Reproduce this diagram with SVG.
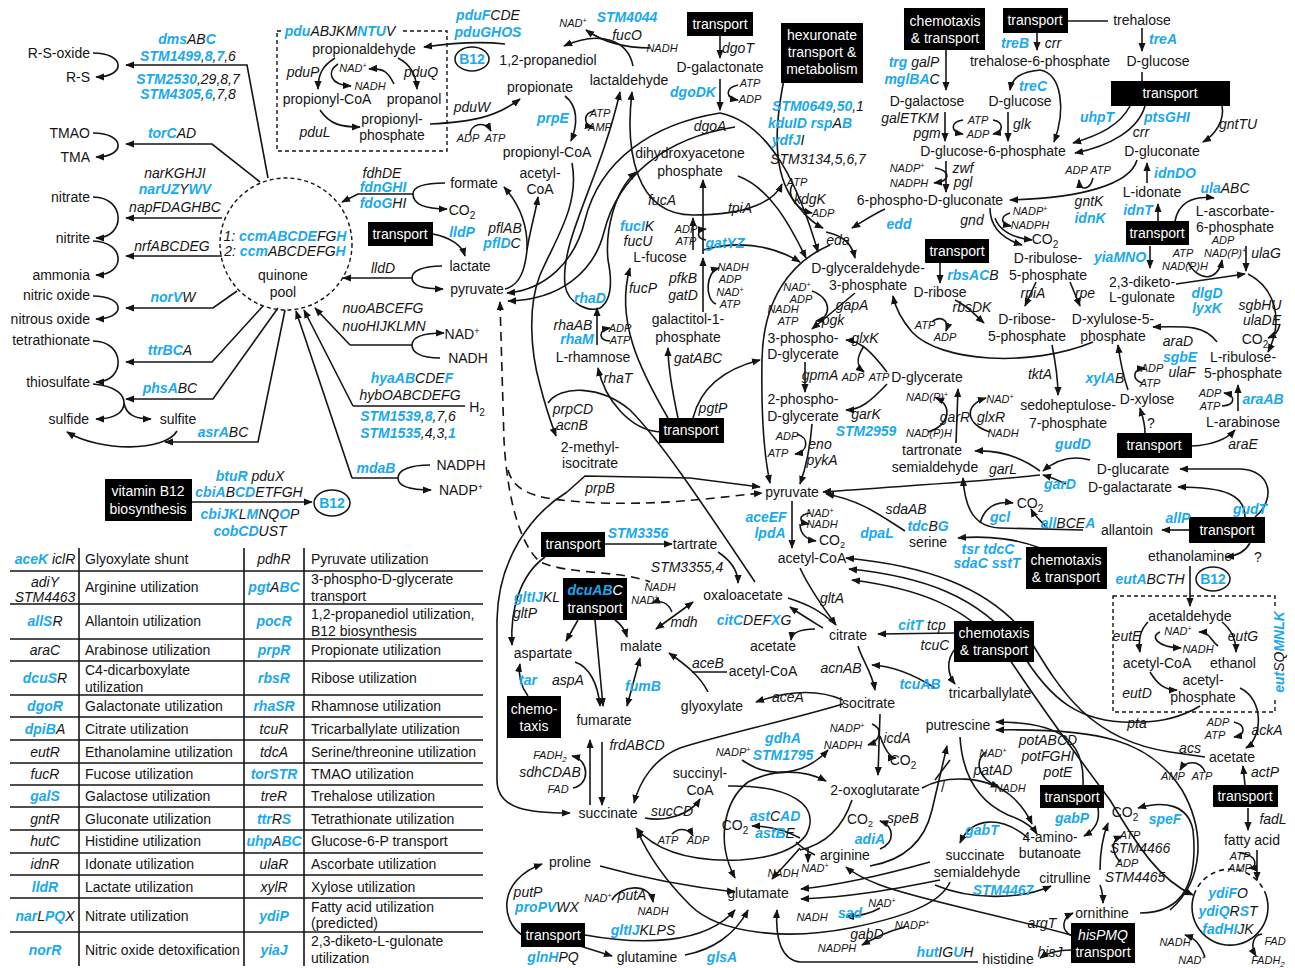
<svg xmlns="http://www.w3.org/2000/svg" width="1295" height="968" viewBox="0 0 1295 968">
<style>
text{font-family:"Liberation Sans",Arial,Helvetica,sans-serif;font-size:14px;fill:#141414}
.m{text-anchor:middle}
.e{text-anchor:end}
.g{font-style:italic}
.b{fill:#1aa8ee;font-weight:bold}
.s{font-size:11px}
.w{fill:#fff;text-anchor:middle}
.c{fill:none;stroke:#141414;stroke-width:1.6}
.a{marker-end:url(#ah)}
.r{marker-start:url(#ah)}
.d{stroke-dasharray:9 6}
.q{fill:none;stroke:#141414;stroke-width:1.4;stroke-dasharray:4 3}
.tb{stroke:#141414;stroke-width:1.6}
.el{fill:none;stroke:#141414;stroke-width:1.5}
.bb{fill:#1aa8ee;font-weight:bold;font-style:normal}
</style>
<defs>
<marker id="ah" viewBox="0 0 10 10" refX="9" refY="5" markerWidth="9" markerHeight="9" markerUnits="userSpaceOnUse" orient="auto-start-reverse"><path d="M0,1 L10,5 L0,9 z" fill="#141414"/></marker>
</defs>
<rect width="1295" height="968" fill="#fff"/>

<g id="connectors">
<path class="c a" d="M268,178 L247,65 L126,65"/>
<path class="c a" d="M93,53 C126,53 126,77 96,77"/>
<path class="c a" d="M260,182 L212,144 L126,144"/>
<path class="c a" d="M93,133 C126,133 126,157 96,157"/>
<path class="c a" d="M222,218 L126,218"/>
<path class="c a" d="M93,197 C126,197 126,238 96,238"/>
<path class="c a" d="M222,256 L126,256"/>
<path class="c a" d="M93,241 C126,242 126,275 96,275"/>
<path class="c a" d="M237,291 L213,308 L126,308"/>
<path class="c a" d="M93,296 C126,296 126,319 96,319"/>
<path class="c a" d="M263,306 L212,362 L126,362"/>
<path class="c a" d="M93,341 C126,341 126,382 96,382"/>
<path class="c a" d="M278,308 L213,399 L126,399"/>
<path class="c a" d="M93,384 C118,386 124,396 124,403 C124,412 115,419 96,419"/>
<path class="c a" d="M124,403 C126,414 134,419 151,419"/>
<path class="c a" d="M285,310 L258,442 L165,442"/>
<path class="c a" d="M177,431 C165,452 100,452 67,432"/>
<path class="c a" d="M413,194 L358,194 L342,202"/>
<path class="c a" d="M445,183 C420,183 413,188 413,194 C413,202 420,209 447,209"/>
<path class="c a" d="M412,278 L343,278"/>
<path class="c a" d="M442,266 C420,266 412,272 412,278 C412,284 420,289 443,289"/>
<path class="c a" d="M350,345 L315,308"/>
<path class="c" d="M350,345 L412,345"/>
<path class="c a" d="M440,358 C420,358 412,352 412,345 C412,338 420,333 444,333"/>
<path class="c a" d="M353,406 L304,310"/>
<path class="c" d="M353,406 L465,406"/>
<path class="c a" d="M352,478 L296,311"/>
<path class="c" d="M352,478 L398,478"/>
<path class="c a" d="M430,465 C410,465 398,470 398,478 C398,486 410,490 431,490"/>
<path class="c a" d="M433,234 C452,238 462,246 465,256"/>
<path class="c a" d="M192,502 L312,502"/>
<path class="c a" d="M505,44 C480,41 452,43 424,47"/>
<path class="c a" d="M335,58 C322,66 318,75 318,89"/>
<path class="c a" d="M338,64 C326,72 330,85 351,86"/>
<path class="c a" d="M398,58 C410,64 416,74 417,89"/>
<path class="c a" d="M394,84 C388,72 384,68 369,69"/>
<path class="c a" d="M320,110 C330,125 342,127 360,127"/>
<path class="c a" d="M430,124 C470,122 495,118 520,99"/>
<path class="c a" d="M470,135 C470,124 485,120 491,131"/>
<path class="c a" d="M633,66 C628,40 600,30 564,46"/>
<path class="c a" d="M650,48 C622,48 603,42 586,30"/>
<path class="c a" d="M565,96 C578,106 578,124 571,141"/>
<path class="c a" d="M594,111 C583,113 583,125 593,127"/>
<path class="c a" d="M572,163 C580,205 555,240 540,275 C528,305 530,350 540,385 C545,405 550,420 556,436"/>
<path class="c a" d="M505,289 C520,285 525,270 527,250 C528,225 520,205 504,187"/>
<path class="c a" d="M527,250 C530,230 535,215 538,197"/>
<path class="c a" d="M720,36 L720,58"/>
<path class="c a" d="M720,79 L720,110"/>
<path class="c a" d="M738,85 C725,88 725,98 738,100"/>
<path class="c a" d="M720,113 C652,124 600,160 585,220 C575,262 545,290 507,293"/>
<path class="c a" d="M735,127 C665,138 618,176 604,232 C594,272 560,300 508,301"/>
<path class="c a" d="M720,113 C772,124 800,190 818,252"/>
<path class="c a" d="M786,70 C775,120 772,165 790,195 C800,210 810,222 823,228"/>
<path class="c a" d="M792,185 C786,197 798,210 812,213"/>
<path class="c a" d="M885,209 C872,215 862,222 852,228"/>
<path class="c a" d="M826,232 C845,236 852,245 855,258"/>
<path class="c a" d="M830,245 C790,262 763,300 762,360 C761,420 765,460 770,483"/>
<path class="c a" d="M738,176 C770,188 790,225 806,258"/>
<path class="c r a" d="M620,92 C600,180 560,240 565,285 C568,305 590,312 600,308 C612,300 612,280 608,260 C605,230 615,190 636,172"/>
<path class="c r a" d="M632,92 C625,150 635,215 693,215 C750,215 775,200 782,184"/>
<path class="c a" d="M597,345 L597,308"/>
<path class="c a" d="M610,341 C598,340 598,330 610,328"/>
<path class="c a" d="M693,250 L693,218"/>
<path class="c a" d="M706,240 C696,238 696,230 706,229"/>
<path class="c a" d="M703,312 L703,258"/>
<path class="c a" d="M703,254 L703,180"/>
<path class="c a" d="M716,304 C705,300 705,272 719,268"/>
<path class="c a" d="M703,250 C740,240 772,245 800,262"/>
<path class="c a" d="M660,432 C630,430 605,400 598,368"/>
<path class="c a" d="M668,418 C640,370 615,320 630,268"/>
<path class="c a" d="M678,418 C672,390 668,365 668,348"/>
<path class="c a" d="M693,418 C700,390 720,370 760,360"/>
<path class="c a" d="M855,293 L812,329"/>
<path class="c a" d="M812,291 C832,298 832,318 816,321"/>
<path class="c a" d="M805,362 L805,392"/>
<path class="c a" d="M812,424 C810,450 805,470 800,484"/>
<path class="c a" d="M797,434 C810,438 808,452 795,454"/>
<path class="c a" d="M887,372 C870,350 860,341 846,340"/>
<path class="c a" d="M887,384 C870,402 860,410 846,410"/>
<path class="c a" d="M864,346 C856,358 856,366 864,372"/>
<path class="c a" d="M1093,342 C1030,368 940,362 912,332 C900,318 895,306 893,296"/>
<path class="c a" d="M956,443 L958,389"/>
<path class="c a" d="M928,432 C950,425 953,405 936,398"/>
<path class="c a" d="M990,432 C966,425 963,405 986,398"/>
<path class="c a" d="M1090,460 C1072,455 1056,460 1043,471"/>
<path class="c a" d="M1066,484 C1058,480 1050,477 1043,475"/>
<path class="c a" d="M1040,471 C1020,456 1000,450 975,451"/>
<path class="c a" d="M1040,475 C980,482 900,486 823,492"/>
<path class="c a" d="M1083,530 L1000,528 C975,527 965,510 963,478"/>
<path class="c a" d="M1047,528 C1040,520 1034,515 1031,509"/>
<path class="c a" d="M980,523 C985,506 998,501 1013,503"/>
<path class="c a" d="M1190,530 L1162,530"/>
<path class="c a" d="M1255,517 C1276,500 1272,470 1240,469 L1180,469"/>
<path class="c a" d="M1245,517 C1245,495 1225,487 1178,487"/>
<path class="c a" d="M1250,543 C1245,552 1236,556 1226,557"/>
<path class="c a" d="M1190,566 L1190,606"/>
<path class="c a" d="M1040,548 C1020,540 990,535 958,538"/>
<path class="c a" d="M905,531 C880,515 860,500 826,494"/>
<path class="c a" d="M792,501 L792,548"/>
<path class="c a" d="M810,513 C798,515 798,522 809,524"/>
<path class="c a" d="M800,524 C800,535 808,540 816,541"/>
<path class="c r" d="M846,558 C920,565 990,585 1030,640 C1060,690 1090,740 1170,752 L1205,757"/>
<path class="c r" d="M849,569 C920,576 980,595 1020,650 C1050,700 1080,725 1140,722 C1170,722 1190,712 1200,706"/>
<path class="c r a" d="M852,580 C915,588 970,605 1010,660 C1050,720 1080,760 1110,800 C1140,850 1160,880 1193,895"/>
<path class="c a" d="M1240,688 C1265,700 1262,738 1246,748"/>
<path class="c a" d="M1234,722 C1246,725 1246,735 1234,737"/>
<path class="c a" d="M1205,772 C1200,760 1186,760 1180,770"/>
<path class="c a" d="M1245,785 L1243,766"/>
<path class="c a" d="M1248,808 L1248,830"/>
<path class="c a" d="M1257,850 L1257,880"/>
<path class="c a" d="M1240,853 C1258,855 1258,868 1249,868"/>
<path class="c a" d="M1205,957 C1200,944 1195,938 1185,935"/>
<path class="c a" d="M1262,934 C1253,935 1250,946 1256,956"/>
<path class="c a" d="M1148,622 C1140,630 1138,640 1140,652"/>
<path class="c a" d="M1160,632 C1150,636 1156,647 1181,648"/>
<path class="c a" d="M1222,622 C1232,630 1236,640 1236,652"/>
<path class="c a" d="M1218,646 C1210,640 1210,632 1199,632"/>
<path class="c a" d="M1150,672 C1158,685 1165,690 1177,690"/>
<path class="c a" d="M800,568 C810,590 825,610 836,625"/>
<path class="c" d="M788,598 C810,605 822,612 835,624"/>
<path class="c a" d="M823,628 C810,620 800,614 790,607"/>
<path class="c a" d="M815,629 C800,629 792,632 791,640"/>
<path class="c a" d="M858,646 C862,660 872,672 875,690"/>
<path class="c a" d="M935,688 C910,672 890,666 872,665"/>
<path class="c a" d="M954,633 L878,634"/>
<path class="c a" d="M956,648 C945,660 948,675 955,684"/>
<path class="c a" d="M880,714 L878,775"/>
<path class="c a" d="M872,724 C882,728 882,740 868,745"/>
<path class="c a" d="M880,736 C885,750 890,758 896,758"/>
<path class="c a" d="M843,700 C820,690 790,690 756,702"/>
<path class="c a" d="M843,704 C790,720 720,735 680,748 C655,758 640,780 634,803"/>
<path class="c" d="M727,672 L692,672"/>
<path class="c a" d="M708,692 C700,676 686,665 669,653"/>
<path class="c r a" d="M656,629 L693,602"/>
<path class="c a" d="M672,612 C668,602 660,600 652,603"/>
<path class="c a" d="M605,544 L672,544"/>
<path class="c a" d="M718,552 C730,560 738,570 738,583"/>
<path class="c a" d="M545,557 C520,575 510,610 512,645"/>
<path class="c a" d="M528,696 C520,685 518,675 520,664"/>
<path class="c a" d="M578,620 L566,641"/>
<path class="c a" d="M595,620 L603,706"/>
<path class="c a" d="M615,620 C622,625 625,630 627,637"/>
<path class="c a" d="M575,662 C590,667 598,685 600,706"/>
<path class="c r a" d="M627,706 L640,658"/>
<path class="c a" d="M567,492 L585,476 L690,478 L760,487"/>
<path class="c" d="M548,403 C560,385 600,385 630,410 C660,440 700,500 755,582"/>
<path class="c d r" d="M500,302 L504,440 C506,480 515,540 540,562 C570,575 620,570 650,582"/>
<path class="c d a" d="M508,470 C515,495 540,500 600,503 C670,505 720,497 762,493"/>
<path class="c a" d="M567,492 C530,515 498,560 497,620 L497,780 C497,810 530,813 570,813"/>
<path class="c a" d="M590,805 L590,740"/>
<path class="c a" d="M602,742 L602,805"/>
<path class="c a" d="M573,788 C590,785 590,760 572,756"/>
<path class="c a" d="M645,818 C665,822 690,815 700,799"/>
<path class="c a" d="M672,834 C680,826 690,830 693,836"/>
<path class="c a" d="M728,786 C790,785 822,805 806,835 C795,850 770,858 740,860 C690,862 655,850 636,828"/>
<path class="c" d="M815,855 C805,850 800,846 796,842"/>
<path class="c a" d="M748,782 C725,800 715,840 735,878"/>
<path class="c a" d="M748,782 C775,768 805,770 826,781"/>
<path class="c a" d="M742,760 C770,780 805,775 828,750"/>
<path class="c a" d="M800,838 C785,830 770,826 752,826"/>
<path class="c a" d="M800,848 C790,860 780,870 772,879"/>
<path class="c a" d="M808,848 L808,862"/>
<path class="c" d="M852,800 C842,830 822,845 800,850"/>
<path class="c a" d="M880,849 C896,842 894,826 880,821"/>
<path class="c a" d="M600,866 C650,880 700,888 735,892"/>
<path class="c a" d="M612,900 C620,885 650,882 653,902"/>
<path class="c a" d="M522,935 C500,920 498,880 542,864"/>
<path class="c a" d="M585,935 C640,945 705,945 735,910"/>
<path class="c a" d="M580,946 L612,956"/>
<path class="c a" d="M685,955 C712,950 735,935 748,910"/>
<path class="c a" d="M978,962 L800,962 C782,960 775,940 777,910"/>
<path class="c a" d="M950,882 C940,905 900,918 850,928 C790,940 720,935 690,905 C670,885 650,860 637,830"/>
<path class="c a" d="M880,908 C870,914 860,916 846,917"/>
<path class="c a" d="M905,927 C885,932 875,938 862,945"/>
<path class="c a" d="M930,862 C880,876 840,885 801,889"/>
<path class="c a" d="M940,880 C890,890 850,897 801,899"/>
<path class="c a" d="M1071,935 C1000,915 920,900 880,885 C862,878 852,872 846,867"/>
<path class="c a" d="M870,866 C905,860 925,840 932,810 L947,746"/>
<path class="c a" d="M960,737 C962,770 975,800 1008,815 C1022,820 1032,826 1037,834"/>
<path class="c a" d="M986,752 C975,760 976,778 999,787"/>
<path class="c a" d="M922,788 C945,775 985,775 1010,795 C1022,805 1028,815 1032,824"/>
<path class="c a" d="M1028,838 C1002,816 972,816 960,843"/>
<path class="c a" d="M935,885 C970,900 1020,900 1051,886"/>
<path class="c a" d="M1100,870 C1100,850 1103,836 1108,823"/>
<path class="c a" d="M1100,885 C1102,890 1103,895 1103,903"/>
<path class="c a" d="M1120,862 C1110,850 1112,840 1122,836"/>
<path class="c a" d="M1140,913 C1185,913 1198,880 1193,830 C1188,805 1165,800 1138,808"/>
<path class="c a" d="M1170,910 C1205,880 1205,830 1182,790 C1150,740 1100,728 996,730"/>
<path class="c a" d="M1083,785 C1085,740 1060,722 996,722"/>
<path class="c a" d="M1098,808 C1100,820 1095,830 1084,836"/>
<path class="c a" d="M1072,936 C1060,930 1062,918 1073,913"/>
<path class="c a" d="M1071,950 C1056,950 1046,954 1040,958"/>
<path class="c" d="M935,780 L950,760"/>
<path class="c" d="M1068,21 L1108,21"/>
<path class="c a" d="M1037,33 L1037,50"/>
<path class="c a" d="M1142,28 L1142,51"/>
<path class="c a" d="M946,50 L946,90"/>
<path class="c a" d="M1040,70 C1020,72 1012,78 1010,90"/>
<path class="c a" d="M1040,70 C1062,74 1066,110 1054,142"/>
<path class="c a" d="M945,112 L945,141"/>
<path class="c a" d="M1008,112 L1008,141"/>
<path class="c a" d="M963,120 C950,122 950,132 963,134"/>
<path class="c a" d="M993,120 C1004,122 1004,132 993,134"/>
<path class="c" d="M1142,72 L1142,82"/>
<path class="c a" d="M1130,106 C1120,125 1100,135 1073,143"/>
<path class="c a" d="M1145,106 C1138,130 1110,146 1075,153"/>
<path class="c a" d="M1222,106 C1225,120 1215,135 1203,142"/>
<path class="c a" d="M946,161 L946,192"/>
<path class="c a" d="M935,168 C950,170 952,181 934,183"/>
<path class="c a" d="M1137,160 C1130,185 1080,198 1010,200"/>
<path class="c a" d="M1093,178 C1090,190 1080,192 1079,180"/>
<path class="c a" d="M1147,183 L1147,163"/>
<path class="c a" d="M1158,221 L1158,204"/>
<path class="c a" d="M1175,221 C1178,205 1190,195 1214,198"/>
<path class="c a" d="M990,208 C990,225 1000,238 1022,245"/>
<path class="c a" d="M1010,213 C1000,216 1000,224 1011,226"/>
<path class="c a" d="M995,218 C1000,232 1015,238 1032,240"/>
<path class="c a" d="M940,263 L940,283"/>
<path class="c a" d="M955,300 C968,306 975,315 984,323"/>
<path class="c a" d="M932,322 C940,315 950,320 946,331"/>
<path class="c a" d="M1036,282 L1025,306"/>
<path class="c a" d="M1070,282 L1080,306"/>
<path class="c a" d="M1052,345 C1055,360 1058,375 1058,395"/>
<path class="c a" d="M1150,246 L1150,268"/>
<path class="c a" d="M1176,284 L1245,274"/>
<path class="c a" d="M1188,262 C1198,282 1218,282 1222,260"/>
<path class="c a" d="M1246,246 L1246,271"/>
<path class="c a" d="M1248,274 C1275,288 1284,320 1268,352"/>
<path class="c a" d="M1280,324 C1278,332 1275,335 1268,338"/>
<path class="c a" d="M1217,342 C1205,326 1190,326 1153,327"/>
<path class="c a" d="M1128,390 C1122,372 1120,360 1118,345"/>
<path class="c a" d="M1142,383 C1132,380 1132,369 1145,368"/>
<path class="c a" d="M1145,433 C1145,422 1142,415 1140,408"/>
<path class="c a" d="M1192,446 C1210,445 1226,440 1235,430"/>
<path class="c a" d="M1238,411 L1238,385"/>
<path class="c a" d="M1222,406 C1236,405 1236,395 1224,393"/>
</g>

<g id="quinone-pool"><circle cx="286" cy="244" r="66" class="q"/>
<text class="m g" x="285" y="241">1: <tspan class="b">ccmABCDE</tspan>FG<tspan class="b">H</tspan></text>
<text class="m g" x="285" y="256">2: <tspan class="b">ccm</tspan>ABCDEFG<tspan class="b">H</tspan></text>
<text class="m" x="283" y="280">quinone</text><text class="m" x="283" y="297">pool</text></g>
<g id="pdu-box"><rect x="277" y="31" width="170" height="120" class="q"/><rect x="282" y="23" width="118" height="16" fill="#fff"/>
<text class="m g" x="340" y="36"><tspan class="b">pdu</tspan>ABJKM<tspan class="b">NTU</tspan>V</text></g>
<g id="eut-box"><rect x="1113" y="596" width="162" height="116" class="q"/><rect x="1271" y="608" width="16" height="90" fill="#fff"/>
<text class="m g" transform="translate(1284,652) rotate(-90)"><tspan class="b">eut</tspan>SQ<tspan class="b">MNLK</tspan></text></g>
<g id="ydi-circle"><path class="c d" style="stroke-dasharray:5 4" d="M1194,895 A38,38 0 0 1 1266,895"/><path class="c" d="M1266,895 A38,38 0 1 1 1194,895"/>
<text class="m g" x="1228" y="898"><tspan class="b">ydiF</tspan>O</text>
<text class="m g" x="1228" y="916"><tspan class="b">ydiQ</tspan>R<tspan class="b">S</tspan>T</text>
<text class="m g" x="1228" y="934"><tspan class="b">fadHI</tspan>JK</text></g>
<g id="b12-a"><ellipse cx="332" cy="503" rx="18" ry="13" class="el"/><text class="m bb" x="332" y="508">B12</text></g>
<g id="b12-b"><ellipse cx="472" cy="59" rx="17" ry="12" class="el"/><text class="m bb" x="472" y="64">B12</text></g>
<g id="b12-c"><ellipse cx="1213" cy="579" rx="17" ry="12" class="el"/><text class="m bb" x="1213" y="584">B12</text></g>

<g id="box-lldP"><rect x="368" y="222" width="65" height="24"/><text class="w" x="400" y="239">transport</text></g>
<g id="box-b12"><rect x="105" y="479" width="87" height="42"/><text class="w" x="148" y="496">vitamin B12</text><text class="w" x="148" y="514">biosynthesis</text></g>
<g id="box-dgo"><rect x="687" y="12" width="66" height="24"/><text class="w" x="720" y="29">transport</text></g>
<g id="box-hex"><rect x="781" y="23" width="82" height="60"/><text class="w" x="822" y="40">hexuronate</text><text class="w" x="822" y="57">transport &amp;</text><text class="w" x="822" y="74">metabolism</text></g>
<g id="box-chemo1"><rect x="904" y="8" width="81" height="42"/><text class="w" x="945" y="26">chemotaxis</text><text class="w" x="945" y="43">&amp; transport</text></g>
<g id="box-tre"><rect x="1003" y="8" width="65" height="25"/><text class="w" x="1035" y="25">transport</text></g>
<g id="box-pts"><rect x="1111" y="81" width="119" height="25"/><text class="w" x="1170" y="98">transport</text></g>
<g id="box-idn"><rect x="1126" y="221" width="63" height="24"/><text class="w" x="1157" y="238">transport</text></g>
<g id="box-rbs"><rect x="925" y="239" width="64" height="24"/><text class="w" x="957" y="256">transport</text></g>
<g id="box-xyl"><rect x="1117" y="433" width="75" height="25"/><text class="w" x="1154" y="450">transport</text></g>
<g id="box-mid"><rect x="659" y="418" width="65" height="25"/><text class="w" x="691" y="435">transport</text></g>
<g id="box-tart"><rect x="541" y="532" width="64" height="25"/><text class="w" x="573" y="549">transport</text></g>
<g id="box-dcu"><rect x="563" y="578" width="64" height="42"/><text class="w g" x="595" y="595"><tspan class="b">dcuAB</tspan>C</text><text class="w" x="595" y="613">transport</text></g>
<g id="box-chemo2"><rect x="507" y="696" width="54" height="42"/><text class="w" x="534" y="714">chemo-</text><text class="w" x="534" y="731">taxis</text></g>
<g id="box-gud"><rect x="1189" y="517" width="76" height="26"/><text class="w" x="1227" y="535">transport</text></g>
<g id="box-chemo3"><rect x="1026" y="547" width="81" height="42"/><text class="w" x="1066" y="565">chemotaxis</text><text class="w" x="1066" y="582">&amp; transport</text></g>
<g id="box-chemo4"><rect x="954" y="621" width="80" height="41"/><text class="w" x="994" y="638">chemotaxis</text><text class="w" x="994" y="655">&amp; transport</text></g>
<g id="box-pot"><rect x="1040" y="785" width="64" height="23"/><text class="w" x="1072" y="802">transport</text></g>
<g id="box-act"><rect x="1213" y="785" width="65" height="22"/><text class="w" x="1245" y="801">transport</text></g>
<g id="box-his"><rect x="1071" y="923" width="64" height="40"/><text class="w g" x="1103" y="940">hisPMQ</text><text class="w" x="1103" y="957">transport</text></g>
<g id="box-glu"><rect x="521" y="923" width="64" height="24"/><text class="w" x="553" y="940">transport</text></g>

<g id="n-left">
<text class="e" x="90" y="58">R-S-oxide</text><text class="e" x="90" y="82">R-S</text>
<text class="e" x="90" y="138">TMAO</text><text class="e" x="90" y="162">TMA</text>
<text class="e" x="90" y="202">nitrate</text><text class="e" x="90" y="243">nitrite</text><text class="e" x="90" y="280">ammonia</text>
<text class="e" x="90" y="300">nitric oxide</text><text class="e" x="90" y="324">nitrous oxide</text>
<text class="e" x="90" y="345">tetrathionate</text><text class="e" x="90" y="387">thiosulfate</text>
<text class="e" x="89" y="424">sulfide</text><text class="m" x="178" y="424">sulfite</text>
</g>
<g id="n-mid-left">
<text class="m" x="474" y="188">formate</text><text class="m" x="462" y="215">CO<tspan font-size="10" dy="4">2</tspan></text>
<text class="m" x="470" y="271">lactate</text><text class="m" x="477" y="294">pyruvate</text>
<text class="m" x="462" y="339">NAD<tspan font-size="9" dy="-5">+</tspan></text><text class="m" x="468" y="363">NADH</text>
<text class="m" x="477" y="412">H<tspan font-size="10" dy="4">2</tspan></text>
<text class="m" x="461" y="470">NADPH</text><text class="m" x="461" y="495">NADP<tspan font-size="9" dy="-5">+</tspan></text>
<text class="m" x="364" y="54">propionaldehyde</text>
<text class="m" x="327" y="104">propionyl-CoA</text><text class="m" x="414" y="104">propanol</text>
<text class="m" x="392" y="124">propionyl-</text><text class="m" x="392" y="140">phosphate</text>
<text class="m" x="548" y="65">1,2-propanediol</text><text class="m" x="629" y="85">lactaldehyde</text>
<text class="m" x="540" y="92">propionate</text><text class="m" x="547" y="157">propionyl-CoA</text>
<text class="m" x="540" y="178">acetyl-</text><text class="m" x="540" y="194">CoA</text>
<text class="m" x="720" y="72">D-galactonate</text>
<text class="m" x="690" y="158">dihydroxyacetone</text><text class="m" x="690" y="176">phosphate</text>
<text class="m" x="660" y="262">L-fucose</text>
<text class="m" x="593" y="362">L-rhamnose</text>
<text class="m" x="688" y="324">galactitol-1-</text><text class="m" x="688" y="342">phosphate</text>
<text class="m" x="590" y="452">2-methyl-</text><text class="m" x="590" y="468">isocitrate</text>
</g>
<g id="n-top-right">
<text class="m" x="1142" y="25">trehalose</text>
<text class="m" x="1040" y="66">trehalose-6-phosphate</text><text class="m" x="1158" y="66">D-glucose</text>
<text class="m" x="927" y="106">D-galactose</text><text class="m" x="1020" y="106">D-glucose</text>
<text class="m" x="993" y="156">D-glucose-6-phosphate</text><text class="m" x="1162" y="156">D-gluconate</text>
<text class="m" x="930" y="205">6-phospho-D-gluconate</text><text class="m" x="1152" y="197">L-idonate</text>
<text class="m" x="1235" y="216">L-ascorbate-</text><text class="m" x="1235" y="232">6-phosphate</text>
<text class="m" x="1045" y="244">CO<tspan font-size="10" dy="4">2</tspan></text>
<text class="m" x="868" y="273">D-glyceraldehyde-</text><text class="m" x="868" y="290">3-phosphate</text>
<text class="m" x="940" y="297">D-ribose</text>
<text class="m" x="1048" y="263">D-ribulose-</text><text class="m" x="1048" y="280">5-phosphate</text>
<text class="m" x="1142" y="287">2,3-diketo-</text><text class="m" x="1142" y="302">L-gulonate</text>
<text class="m" x="1255" y="344">CO<tspan font-size="10" dy="4">2</tspan></text>
<text class="m" x="1027" y="324">D-ribose-</text><text class="m" x="1027" y="341">5-phosphate</text>
<text class="m" x="1113" y="324">D-xylulose-5-</text><text class="m" x="1113" y="341">phosphate</text>
<text class="m" x="1243" y="362">L-ribulose-</text><text class="m" x="1243" y="378">5-phosphate</text>
<text class="m" x="927" y="382">D-glycerate</text>
<text class="m" x="1068" y="410">sedoheptulose-</text><text class="m" x="1068" y="428">7-phosphate</text>
<text class="m" x="1147" y="404">D-xylose</text><text class="m" x="1151" y="428">?</text>
<text class="m" x="1243" y="427">L-arabinose</text>
<text class="m" x="932" y="455">tartronate</text><text class="m" x="935" y="472">semialdehyde</text>
<text class="m" x="1133" y="474">D-glucarate</text><text class="m" x="1130" y="492">D-galactarate</text>
</g>
<g id="n-glycolysis">
<text class="m" x="803" y="343">3-phospho-</text><text class="m" x="803" y="359">D-glycerate</text>
<text class="m" x="803" y="404">2-phospho-</text><text class="m" x="803" y="421">D-glycerate</text>
<text class="m" x="792" y="497">pyruvate</text>
<text class="m" x="832" y="545">CO<tspan font-size="9" dy="3">2</tspan></text>
<text class="m" x="812" y="563">acetyl-CoA</text>
</g>
<g id="n-tca">
<text class="m" x="695" y="549">tartrate</text><text class="m" x="743" y="600">oxaloacetate</text>
<text class="m" x="543" y="658">aspartate</text><text class="m" x="641" y="651">malate</text>
<text class="m" x="604" y="725">fumarate</text><text class="m" x="773" y="651">acetate</text>
<text class="m" x="848" y="640">citrate</text><text class="m" x="763" y="676">acetyl-CoA</text>
<text class="m" x="712" y="711">glyoxylate</text><text class="m" x="867" y="708">isocitrate</text>
<text class="m" x="990" y="698">tricarballylate</text><text class="m" x="958" y="730">putrescine</text>
<text class="m" x="903" y="765">CO<tspan font-size="10" dy="4">2</tspan></text>
<text class="m" x="608" y="818">succinate</text>
<text class="m" x="700" y="778">succinyl-</text><text class="m" x="700" y="795">CoA</text>
<text class="m" x="875" y="795">2-oxoglutarate</text>
<text class="m" x="735" y="830">CO<tspan font-size="10" dy="4">2</tspan></text>
<text class="m" x="860" y="824">CO<tspan font-size="9" dy="3">2</tspan></text>
<text class="m" x="845" y="860">arginine</text>
<text class="m" x="570" y="867">proline</text><text class="m" x="758" y="898">glutamate</text>
<text class="m" x="647" y="962">glutamine</text>
</g>
<g id="n-right">
<text class="m" x="928" y="547">serine</text>
<text class="m" x="1030" y="508">CO<tspan font-size="10" dy="4">2</tspan></text>
<text class="m" x="1127" y="535">allantoin</text>
<text class="m" x="1190" y="561">ethanolamine</text><text class="m" x="1258" y="562">?</text>
<text class="m" x="1190" y="621">acetaldehyde</text>
<text class="m" x="1157" y="668">acetyl-CoA</text><text class="m" x="1233" y="668">ethanol</text>
<text class="m" x="1203" y="685">acetyl-</text><text class="m" x="1203" y="702">phosphate</text>
<text class="m" x="1232" y="762">acetate</text>
<text class="m" x="1252" y="845">fatty acid</text>
<text class="m" x="1050" y="842">4-amino-</text><text class="m" x="1050" y="858">butanoate</text>
<text class="m" x="1125" y="817">CO<tspan font-size="10" dy="4">2</tspan></text>
<text class="m" x="975" y="860">succinate</text><text class="m" x="977" y="877">semialdehyde</text>
<text class="m" x="1065" y="883">citrulline</text>
<text class="m" x="1102" y="918">ornithine</text>
<text class="m" x="1008" y="964">histidine</text>
<text class="m" x="943" y="792">/</text>
</g>

<g id="labels" class="g">
<text class="m g" x="187" y="44"><tspan class="b">dms</tspan>AB<tspan class="b">C</tspan></text>
<text class="m g" x="188" y="61"><tspan class="b">STM1499</tspan>,<tspan class="b">8</tspan>,<tspan class="b">7</tspan>,6</text>
<text class="m g" x="188" y="84"><tspan class="b">STM2530</tspan>,29,8,7</text>
<text class="m g" x="188" y="99"><tspan class="b">STM4305</tspan>,<tspan class="b">6</tspan>,7,8</text>
<text class="m g" x="172" y="138"><tspan class="b">torC</tspan>AD</text>
<text class="m g" x="175" y="178">narKGHJI</text>
<text class="m g" x="175" y="194"><tspan class="b">narUZ</tspan>Y<tspan class="b">WV</tspan></text>
<text class="m g" x="175" y="212">napFDAGHBC</text>
<text class="m g" x="172" y="251">nrfABCDEG</text>
<text class="m g" x="173" y="302"><tspan class="b">norV</tspan>W</text>
<text class="m g" x="170" y="355"><tspan class="b">ttrBC</tspan>A</text>
<text class="m g" x="170" y="393"><tspan class="b">phsA</tspan>BC</text>
<text class="m g" x="223" y="437"><tspan class="b">asrA</tspan>BC</text>
<text class="m g" x="382" y="178">fdhDE</text>
<text class="m g" x="383" y="192"><tspan class="b">fdnGHI</tspan></text>
<text class="m g" x="383" y="208"><tspan class="b">fdoG</tspan>HI</text>
<text class="m g" x="462" y="237"><tspan class="b">lldP</tspan></text>
<text class="m g" x="383" y="273">lldD</text>
<text class="m g" x="383" y="313">nuoABCEFG</text>
<text class="m g" x="384" y="331">nuoHIJKLMN</text>
<text class="m g" x="412" y="383"><tspan class="b">hyaAB</tspan>CDE<tspan class="b">F</tspan></text>
<text class="m g" x="410" y="400">hybOABCDEFG</text>
<text class="m g" x="408" y="421"><tspan class="b">STM1539</tspan>,<tspan class="b">8</tspan>,7,6</text>
<text class="m g" x="408" y="438"><tspan class="b">STM1535</tspan>,4,3,<tspan class="b">1</tspan></text>
<text class="m g" x="376" y="473"><tspan class="b">mdaB</tspan></text>
<text class="m g" x="250" y="481"><tspan class="b">btuR</tspan> pduX</text>
<text class="m g" x="249" y="497"><tspan class="b">cbiA</tspan>B<tspan class="b">CD</tspan>ETFGH</text>
<text class="m g" x="250" y="519"><tspan class="b">cbiJK</tspan>L<tspan class="b">M</tspan>NQ<tspan class="b">O</tspan>P</text>
<text class="m g" x="250" y="536"><tspan class="b">cobCD</tspan>UST</text>
<text class="m g" x="303" y="77">pduP</text><text class="m g" x="421" y="77">pduQ</text><text class="m g" x="315" y="137">pduL</text>
<text class="m s" x="353" y="72">NAD<tspan font-size="7" dy="-4">+</tspan></text><text class="m s" x="370" y="90">NADH</text>
<text class="m g" x="488" y="20"><tspan class="b">pduF</tspan>CDE</text>
<text class="m g" x="488" y="37"><tspan class="b">pduGHOS</tspan></text>
<text class="m s" x="573" y="27">NAD<tspan font-size="7" dy="-4">+</tspan></text>
<text class="m g" x="627" y="22"><tspan class="b">STM4044</tspan></text>
<text class="m g" x="627" y="40">fucO</text><text class="m s" x="662" y="52">NADH</text>
<text class="m g" x="472" y="112">pduW</text><text class="m s" x="468" y="142">ADP</text><text class="m s" x="495" y="142">ATP</text>
<text class="m g" x="553" y="123"><tspan class="b">prpE</tspan></text><text class="m s" x="600" y="117">ATP</text><text class="m s" x="600" y="131">AMP</text>
<text class="m g" x="505" y="233">pflAB</text>
<text class="m g" x="502" y="248"><tspan class="b">pflD</tspan>C</text>
<text class="m g" x="738" y="53">dgoT</text>
<text class="m g" x="693" y="97"><tspan class="b">dgoDK</tspan></text>
<text class="m s" x="750" y="87">ATP</text><text class="m s" x="750" y="103">ADP</text>
<text class="m g" x="710" y="131">dgoA</text>
<text class="m g" x="818" y="111"><tspan class="b">STM0649</tspan>,<tspan class="b">50</tspan>,1</text>
<text class="m g" x="810" y="128"><tspan class="b">kduID rsp</tspan>A<tspan class="b">B</tspan></text>
<text class="m g" x="788" y="145"><tspan class="b">ydfJ</tspan>I</text>
<text class="m g" x="818" y="164">STM3134,5,6,7</text>
<text class="m s" x="797" y="186">ATP</text><text class="m g" x="810" y="204">kdgK</text><text class="m s" x="823" y="217">ADP</text>
<text class="m g" x="662" y="205">fucA</text><text class="m g" x="740" y="213">tpiA</text>
<text class="m g" x="637" y="231"><tspan class="b">fucI</tspan>K</text><text class="m g" x="638" y="246">fucU</text>
<text class="m s" x="686" y="233">ADP</text><text class="m s" x="686" y="245">ATP</text>
<text class="m g" x="725" y="248"><tspan class="b">gatYZ</tspan></text>
<text class="m g" x="838" y="245">eda</text>
<text class="m g" x="1015" y="48"><tspan class="b">treB</tspan></text><text class="m g" x="1053" y="48">crr</text>
<text class="m g" x="1163" y="44"><tspan class="b">treA</tspan></text>
<text class="m g" x="914" y="67"><tspan class="b">trg</tspan> galP</text>
<text class="m g" x="912" y="84"><tspan class="b">mglBA</tspan>C</text>
<text class="m g" x="1033" y="91"><tspan class="b">treC</tspan></text>
<text class="m g" x="1097" y="122"><tspan class="b">uhpT</tspan></text>
<text class="m g" x="1167" y="122"><tspan class="b">ptsGHI</tspan></text>
<text class="m g" x="1141" y="137">crr</text><text class="m g" x="1238" y="129">gntTU</text>
<text class="m g" x="910" y="123">galETKM</text><text class="m g" x="927" y="138">pgm</text>
<text class="m s" x="978" y="124">ATP</text><text class="m s" x="978" y="138">ADP</text>
<text class="m g" x="1022" y="129">glk</text>
<text class="m s" x="907" y="172">NADP<tspan font-size="7" dy="-4">+</tspan></text><text class="m s" x="909" y="187">NADPH</text>
<text class="m g" x="963" y="173">zwf</text><text class="m g" x="963" y="187">pgl</text>
<text class="m s" x="1088" y="174">ADP ATP</text>
<text class="m g" x="1175" y="178"><tspan class="b">idnDO</tspan></text>
<text class="m g" x="1089" y="206">gntK</text><text class="m g" x="1090" y="223"><tspan class="b">idnK</tspan></text>
<text class="m g" x="1138" y="215"><tspan class="b">idnT</tspan></text>
<text class="m g" x="1225" y="193"><tspan class="b">ula</tspan>ABC</text>
<text class="m g" x="899" y="229"><tspan class="b">edd</tspan></text><text class="m g" x="972" y="225">gnd</text>
<text class="m s" x="1030" y="215">NADP<tspan font-size="7" dy="-4">+</tspan></text><text class="m s" x="1030" y="229">NADPH</text>
<text class="m s" x="1223" y="244">ADP</text>
<text class="m g" x="973" y="280"><tspan class="b">rbsAC</tspan>B</text>
<text class="m g" x="972" y="312">rbsDK</text>
<text class="m s" x="925" y="329">ATP</text><text class="m s" x="945" y="341">ADP</text>
<text class="m g" x="1120" y="262"><tspan class="b">yiaMNO</tspan></text>
<text class="m s" x="1183" y="257">ATP</text><text class="m s" x="1185" y="270">NAD(P)H</text>
<text class="m s" x="1225" y="257">NAD(P)<tspan font-size="7" dy="-4">+</tspan></text>
<text class="m g" x="1266" y="258">ulaG</text>
<text class="m g" x="1207" y="298"><tspan class="b">dlgD</tspan></text><text class="m g" x="1207" y="313"><tspan class="b">lyxK</tspan></text>
<text class="m g" x="1260" y="310">sgbHU</text><text class="m g" x="1262" y="325">ulaDE</text>
<text class="m g" x="1033" y="298">rpiA</text><text class="m g" x="1085" y="298">rpe</text>
<text class="m g" x="1178" y="346">araD</text><text class="m g" x="1180" y="362"><tspan class="b">sgbE</tspan></text><text class="m g" x="1182" y="377">ulaF</text>
<text class="m g" x="1040" y="379">tktA</text>
<text class="m g" x="1105" y="383"><tspan class="b">xylA</tspan>B</text>
<text class="m s" x="1152" y="372">ADP</text><text class="m s" x="1150" y="387">ATP</text>
<text class="m s" x="853" y="381">ADP</text><text class="m s" x="879" y="381">ATP</text>
<text class="m g" x="865" y="343">glxK</text><text class="m g" x="866" y="419">garK</text>
<text class="m g" x="866" y="436"><tspan class="b">STM2959</tspan></text>
<text class="m s" x="927" y="401">NAD(P)<tspan font-size="7" dy="-4">+</tspan></text><text class="m s" x="1000" y="403">NAD<tspan font-size="7" dy="-4">+</tspan></text>
<text class="m g" x="955" y="422">garR</text><text class="m g" x="991" y="422">glxR</text>
<text class="m s" x="929" y="437">NAD(P)H</text><text class="m s" x="1003" y="437">NADH</text>
<text class="m s" x="1210" y="397">ADP</text><text class="m s" x="1210" y="410">ATP</text>
<text class="m g" x="1263" y="404"><tspan class="b">araAB</tspan></text>
<text class="m g" x="1243" y="449">araE</text>
<text class="m g" x="1003" y="474">garL</text>
<text class="m g" x="1073" y="449"><tspan class="b">gudD</tspan></text>
<text class="m g" x="1060" y="489"><tspan class="b">garD</tspan></text>
<text class="m g" x="590" y="303"><tspan class="b">rhaD</tspan></text>
<text class="m g" x="573" y="330">rhaAB</text><text class="m g" x="577" y="344"><tspan class="b">rhaM</tspan></text>
<text class="m s" x="620" y="332">ADP</text><text class="m s" x="620" y="344">ATP</text>
<text class="m g" x="643" y="293">fucP</text>
<text class="m g" x="683" y="283">pfkB</text><text class="m g" x="683" y="300">gatD</text>
<text class="m s" x="733" y="271">NADH</text><text class="m s" x="730" y="283">ADP</text>
<text class="m s" x="730" y="296">NAD<tspan font-size="7" dy="-4">+</tspan></text><text class="m s" x="730" y="308">ATP</text>
<text class="m g" x="698" y="363">gatABC</text><text class="m g" x="618" y="383">rhaT</text>
<text class="m g" x="713" y="413">pgtP</text>
<text class="m s" x="797" y="291">NAD<tspan font-size="7" dy="-4">+</tspan></text><text class="m s" x="801" y="303">ADP</text>
<text class="m s" x="783" y="313">NADH</text><text class="m s" x="788" y="325">ATP</text>
<text class="m g" x="852" y="310">gapA</text><text class="m g" x="833" y="325">pgk</text>
<text class="m g" x="820" y="380">gpmA</text>
<text class="m s" x="787" y="440">ADP</text><text class="m s" x="778" y="457">ATP</text>
<text class="m g" x="820" y="449">eno</text><text class="m g" x="822" y="465">pykA</text>
<text class="m g" x="573" y="414">prpCD</text><text class="m g" x="572" y="430">acnB</text>
<text class="m g" x="600" y="493">prpB</text>
<text class="m g" x="638" y="538"><tspan class="b">STM3356</tspan></text>
<text class="m g" x="687" y="572">STM3355,4</text>
<text class="m g" x="537" y="602"><tspan class="b">gltIJ</tspan>KL</text><text class="m g" x="525" y="618">gltP</text>
<text class="m s" x="660" y="591">NADH</text><text class="m s" x="645" y="604">NAD<tspan font-size="7" dy="-4">+</tspan></text>
<text class="m g" x="684" y="627">mdh</text>
<text class="m g" x="754" y="625"><tspan class="b">citC</tspan>DEF<tspan class="b">X</tspan>G</text>
<text class="m g" x="832" y="603">gltA</text>
<text class="m g" x="568" y="685">aspA</text><text class="m g" x="528" y="685"><tspan class="b">tar</tspan></text>
<text class="m g" x="643" y="691"><tspan class="b">fumB</tspan></text>
<text class="m g" x="708" y="668">aceB</text><text class="m g" x="788" y="702">aceA</text>
<text class="m g" x="841" y="673">acnAB</text>
<text class="m g" x="766" y="522"><tspan class="b">aceEF</tspan></text><text class="m g" x="770" y="538"><tspan class="b">lpdA</tspan></text>
<text class="m s" x="820" y="517">NAD<tspan font-size="7" dy="-4">+</tspan></text><text class="m s" x="822" y="528">NADH</text>
<text class="m g" x="877" y="538"><tspan class="b">dpaL</tspan></text>
<text class="m s" x="847" y="732">NADP<tspan font-size="7" dy="-4">+</tspan></text>
<text class="m g" x="906" y="514">sdaAB</text>
<text class="m g" x="928" y="531"><tspan class="b">tdc</tspan>B<tspan class="b">G</tspan></text>
<text class="m g" x="1000" y="522"><tspan class="b">gcl</tspan></text>
<text class="m g" x="1068" y="528"><tspan class="b">all</tspan>BCE<tspan class="b">A</tspan></text>
<text class="m g" x="1178" y="523"><tspan class="b">allP</tspan></text>
<text class="m g" x="1250" y="514"><tspan class="b">gudT</tspan></text>
<text class="m g" x="988" y="554"><tspan class="b">tsr tdcC</tspan></text>
<text class="m g" x="987" y="568"><tspan class="b">sdaC sstT</tspan></text>
<text class="m g" x="1150" y="584"><tspan class="b">eutA</tspan>BCTH</text>
<text class="m g" x="1127" y="641">eutE</text><text class="m s" x="1178" y="635">NAD<tspan font-size="7" dy="-4">+</tspan></text>
<text class="m g" x="1243" y="641">eutG</text><text class="m s" x="1198" y="653">NADH</text>
<text class="m g" x="1137" y="698">eutD</text>
<text class="m g" x="922" y="630"><tspan class="b">citT</tspan> tcp</text>
<text class="m g" x="935" y="650">tcuC</text>
<text class="m g" x="920" y="689"><tspan class="b">tcuAB</tspan></text>
<text class="m g" x="1137" y="728">pta</text>
<text class="m s" x="1218" y="726">ADP</text><text class="m s" x="1215" y="739">ATP</text>
<text class="m g" x="1267" y="735">ackA</text>
<text class="m g" x="897" y="743">icdA</text>
<text class="m g" x="637" y="750">frdABCD</text>
<text class="m s" x="550" y="759">FADH<tspan font-size="8" dy="3">2</tspan></text>
<text class="m g" x="550" y="777">sdhCDAB</text><text class="m s" x="558" y="793">FAD</text>
<text class="m g" x="672" y="816">sucCD</text>
<text class="m s" x="668" y="844">ATP</text><text class="m s" x="698" y="844">ADP</text>
<text class="m g" x="783" y="743"><tspan class="b">gdhA</tspan></text>
<text class="m g" x="783" y="760"><tspan class="b">STM1795</tspan></text>
<text class="m s" x="733" y="756">NADP<tspan font-size="7" dy="-4">+</tspan></text><text class="m s" x="843" y="749">NADPH</text>
<text class="m g" x="775" y="821"><tspan class="b">ast</tspan>C<tspan class="b">AD</tspan></text>
<text class="m g" x="775" y="838"><tspan class="b">astB</tspan>E</text>
<text class="m s" x="783" y="877">NADH</text><text class="m s" x="815" y="872">NAD<tspan font-size="7" dy="-4">+</tspan></text>
<text class="m g" x="870" y="844"><tspan class="b">adiA</tspan></text>
<text class="m g" x="528" y="897">putP</text>
<text class="m g" x="547" y="912"><tspan class="b">proPV</tspan>WX</text>
<text class="m s" x="598" y="902">NAD<tspan font-size="7" dy="-4">+</tspan></text>
<text class="m g" x="632" y="900">putA</text><text class="m s" x="653" y="915">NADH</text>
<text class="m g" x="643" y="935"><tspan class="b">gltIJ</tspan>KLPS</text>
<text class="m g" x="553" y="962"><tspan class="b">glnH</tspan>PQ</text>
<text class="m g" x="722" y="962"><tspan class="b">glsA</tspan></text>
<text class="m s" x="812" y="921">NADH</text>
<text class="m g" x="850" y="918"><tspan class="b">sad</tspan></text>
<text class="m s" x="882" y="907">NAD<tspan font-size="7" dy="-4">+</tspan></text>
<text class="m g" x="867" y="939">gabD</text>
<text class="m s" x="837" y="952">NADPH</text><text class="m s" x="912" y="929">NADP<tspan font-size="7" dy="-4">+</tspan></text>
<text class="m g" x="1048" y="745">potABCD</text><text class="m g" x="1048" y="761">potFGHI</text><text class="m g" x="1058" y="777">potE</text>
<text class="m s" x="993" y="757">NAD<tspan font-size="7" dy="-4">+</tspan></text>
<text class="m g" x="993" y="775">patAD</text><text class="m s" x="1010" y="792">NADH</text>
<text class="m g" x="903" y="823">speB</text>
<text class="m g" x="982" y="835"><tspan class="b">gabT</tspan></text>
<text class="m g" x="1072" y="823"><tspan class="b">gabP</tspan></text>
<text class="m g" x="1165" y="824"><tspan class="b">speF</tspan></text>
<text class="m s" x="1130" y="839">ATP</text><text class="m g" x="1140" y="853">STM4466</text>
<text class="m s" x="1127" y="867">ADP</text><text class="m g" x="1135" y="882">STM4465</text>
<text class="m g" x="1003" y="895"><tspan class="b">STM4467</tspan></text>
<text class="m g" x="1042" y="928">argT</text><text class="m g" x="1050" y="957">hisJ</text>
<text class="m g" x="945" y="957"><tspan class="b">hut</tspan>IG<tspan class="b">U</tspan>H</text>
<text class="m g" x="1190" y="753">acs</text>
<text class="m s" x="1173" y="780">AMP</text><text class="m s" x="1202" y="780">ATP</text>
<text class="m g" x="1265" y="777">actP</text>
<text class="m g" x="1273" y="824">fadL</text>
<text class="m s" x="1240" y="860">ATP</text><text class="m s" x="1240" y="872">AMP</text>
<text class="m s" x="1175" y="946">NADH</text><text class="m s" x="1192" y="964">NAD<tspan font-size="7" dy="-4">+</tspan></text>
<text class="m s" x="1275" y="945">FAD</text><text class="m s" x="1268" y="964">FADH<tspan font-size="8" dy="3">2</tspan></text>
</g>

<g id="table">
<g class="tb">
<line x1="79" y1="548" x2="79" y2="966"/><line x1="244" y1="548" x2="244" y2="966"/><line x1="304" y1="548" x2="304" y2="966"/>
<line x1="10" y1="571" x2="483" y2="571"/><line x1="10" y1="604" x2="483" y2="604"/><line x1="10" y1="639" x2="483" y2="639"/>
<line x1="10" y1="661" x2="483" y2="661"/><line x1="10" y1="695" x2="483" y2="695"/><line x1="10" y1="717" x2="483" y2="717"/>
<line x1="10" y1="740" x2="483" y2="740"/><line x1="10" y1="763" x2="483" y2="763"/><line x1="10" y1="785" x2="483" y2="785"/>
<line x1="10" y1="807" x2="483" y2="807"/><line x1="10" y1="830" x2="483" y2="830"/><line x1="10" y1="853" x2="483" y2="853"/>
<line x1="10" y1="875" x2="483" y2="875"/><line x1="10" y1="898" x2="483" y2="898"/><line x1="10" y1="932" x2="483" y2="932"/>
</g>
<text class="m g" x="45" y="564"><tspan class="b">aceK</tspan> iclR</text><text x="85" y="564">Glyoxylate shunt</text>
<text class="m g" x="274" y="564">pdhR</text><text x="311" y="564">Pyruvate utilization</text>
<text class="m g" x="45" y="587">adiY</text><text class="m g" x="45" y="602">STM4463</text><text x="85" y="592">Arginine utilization</text>
<text class="m g" x="274" y="592"><tspan class="b">pgt</tspan>A<tspan class="b">BC</tspan></text><text x="311" y="584">3-phospho-D-glycerate</text><text x="311" y="601">transport</text>
<text class="m g" x="45" y="626"><tspan class="b">allS</tspan>R</text><text x="85" y="626">Allantoin utilization</text>
<text class="m g" x="274" y="626"><tspan class="b">pocR</tspan></text><text x="311" y="619">1,2-propanediol utilization,</text><text x="311" y="636">B12 biosynthesis</text>
<text class="m g" x="45" y="655">araC</text><text x="85" y="655">Arabinose utilization</text>
<text class="m g" x="274" y="655"><tspan class="b">prpR</tspan></text><text x="311" y="655">Propionate utilization</text>
<text class="m g" x="45" y="683"><tspan class="b">dcuS</tspan>R</text><text x="85" y="675">C4-dicarboxylate</text><text x="85" y="692">utilization</text>
<text class="m g" x="274" y="683"><tspan class="b">rbsR</tspan></text><text x="311" y="683">Ribose utilization</text>
<text class="m g" x="45" y="711"><tspan class="b">dgoR</tspan></text><text x="85" y="711">Galactonate utilization</text>
<text class="m g" x="274" y="711"><tspan class="b">rhaSR</tspan></text><text x="311" y="711">Rhamnose utilization</text>
<text class="m g" x="45" y="734"><tspan class="b">dpiB</tspan>A</text><text x="85" y="734">Citrate utilization</text>
<text class="m g" x="274" y="734">tcuR</text><text x="311" y="734">Tricarballylate utilization</text>
<text class="m g" x="45" y="757">eutR</text><text x="85" y="757">Ethanolamine utilization</text>
<text class="m g" x="274" y="757">tdcA</text><text x="311" y="757">Serine/threonine utilization</text>
<text class="m g" x="45" y="779">fucR</text><text x="85" y="779">Fucose utilization</text>
<text class="m g" x="274" y="779"><tspan class="b">torSTR</tspan></text><text x="311" y="779">TMAO utilization</text>
<text class="m g" x="45" y="801"><tspan class="b">galS</tspan></text><text x="85" y="801">Galactose utilization</text>
<text class="m g" x="274" y="801">treR</text><text x="311" y="801">Trehalose utilization</text>
<text class="m g" x="45" y="824">gntR</text><text x="85" y="824">Gluconate utilization</text>
<text class="m g" x="274" y="824"><tspan class="b">ttr</tspan>R<tspan class="b">S</tspan></text><text x="311" y="824">Tetrathionate utilization</text>
<text class="m g" x="45" y="846">hutC</text><text x="85" y="846">Histidine utilization</text>
<text class="m g" x="274" y="846"><tspan class="b">uhp</tspan>A<tspan class="b">BC</tspan></text><text x="311" y="846">Glucose-6-P transport</text>
<text class="m g" x="45" y="869">idnR</text><text x="85" y="869">Idonate utilization</text>
<text class="m g" x="274" y="869">ulaR</text><text x="311" y="869">Ascorbate utilization</text>
<text class="m g" x="45" y="892"><tspan class="b">lldR</tspan></text><text x="85" y="892">Lactate utilization</text>
<text class="m g" x="274" y="892">xylR</text><text x="311" y="892">Xylose utilization</text>
<text class="m g" x="45" y="921"><tspan class="b">nar</tspan>L<tspan class="b">PQ</tspan>X</text><text x="85" y="921">Nitrate utilization</text>
<text class="m g" x="274" y="921"><tspan class="b">ydiP</tspan></text><text x="311" y="912">Fatty acid utilization</text><text x="311" y="928">(predicted)</text>
<text class="m g" x="45" y="955"><tspan class="b">norR</tspan></text><text x="85" y="955">Nitric oxide detoxification</text>
<text class="m g" x="274" y="955"><tspan class="b">yiaJ</tspan></text><text x="311" y="946">2,3-diketo-L-gulonate</text><text x="311" y="963">utilization</text>
</g>
</svg>
